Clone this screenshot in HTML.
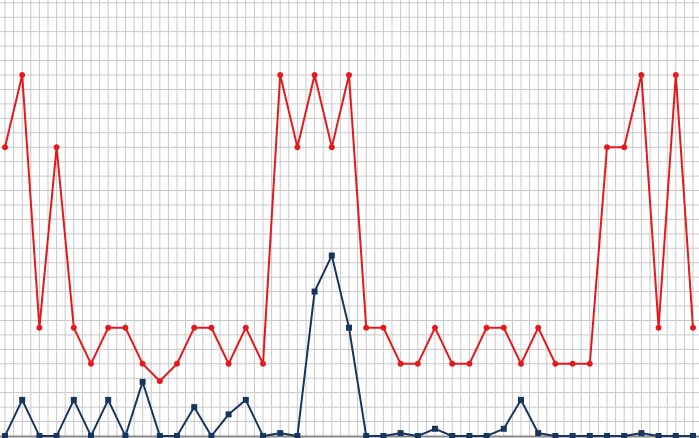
<!DOCTYPE html>
<html><head><meta charset="utf-8"><style>
html,body{margin:0;padding:0;background:#fff;width:699px;height:438px;overflow:hidden}
svg{display:block}
</style></head><body>
<svg id="chart" width="699" height="438" xmlns="http://www.w3.org/2000/svg">
<g id="grid"></g>
<g id="series"></g>
</svg>
<script>
const categories = Array.from({length:41}, (_, i) => 'P' + (i + 1));
const redValues = [20,25,7.5,20,7.5,5,7.5,7.5,5,3.8,5,7.5,7.5,5,7.5,5,25,20,25,20,25,7.5,7.5,5,5,7.5,5,5,7.5,7.5,5,7.5,5,5,5,20,20,25,7.5,25,7.5];
const blueValues = [0,2.5,0,0,2.5,0,2.5,0,3.75,0,0,2,0,1.5,2.5,0,0.2,0,10,12.5,7.5,0,0,0.2,0,0.5,0,0,0,0.5,2.5,0.2,0,0,0,0,0,0.2,0,0,0];

const NS = 'http://www.w3.org/2000/svg';
const x0 = 5, step = 17.2, yBase = 436, unit = 14.44;
const xScale = i => x0 + i * step;
const yScale = v => yBase - v * unit;

const grid = document.getElementById('grid');
function mk(tag, attrs, parent){ const e = document.createElementNS(NS, tag); for (const k in attrs) e.setAttribute(k, attrs[k]); parent.appendChild(e); return e; }
for (let x = x0; x <= 699; x += step / 2) {
  const l = mk('line', {x1:x, x2:x, y1:0, y2:yBase, stroke:'#c8c8c8', 'stroke-width':1}, grid);
  
  
}
for (let k = 0; yBase - k * unit >= 0; k++) {
  const y = yBase - k * unit;
  const l = mk('line', {x1:0, x2:699, y1:y, y2:y, stroke:'#c8c8c8', 'stroke-width':1}, grid);
  
  
}
const ax = mk('line', {x1:0, x2:699, y1:yBase + 0.5, y2:yBase + 0.5, stroke:'#888', 'stroke-width':2}, grid);



const series = document.getElementById('series');
function drawSeries(vals, color, name, square){
  const pts = vals.map((v, i) => xScale(i) + ',' + yScale(v)).join(' ');
  const pl = mk('polyline', {points:pts, fill:'none', stroke:color, 'stroke-width':2, 'stroke-linejoin':'round'}, series);
  
  
  vals.forEach((v, i) => {
    let m;
    if (square) m = mk('rect', {x:xScale(i) - 3, y:yScale(v) - 3, width:6, height:6, fill:color}, series);
    else m = mk('circle', {cx:xScale(i), cy:yScale(v), r:3, fill:color}, series);
    
    
  });
}
drawSeries(redValues, '#e3191c', 'red-series', false);
drawSeries(blueValues, '#17365d', 'blue-series', true);
</script>
</body></html>
